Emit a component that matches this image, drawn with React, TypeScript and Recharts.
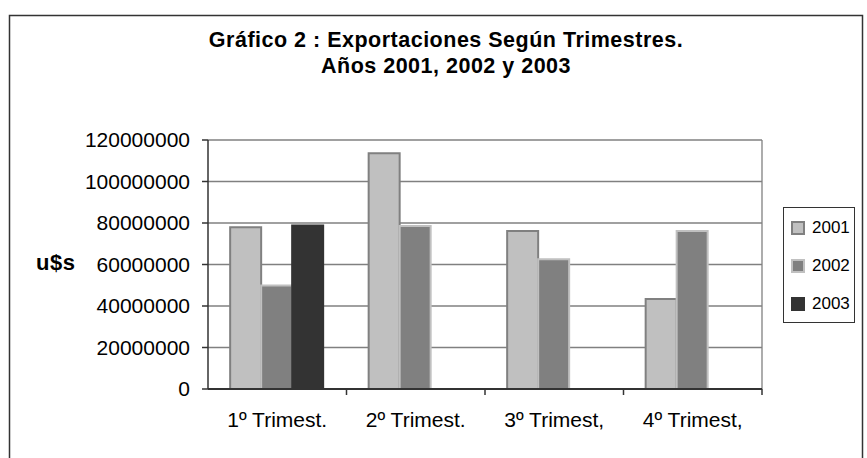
import React from 'react';
import { BarChart, Bar, XAxis, YAxis, CartesianGrid, Legend } from 'recharts';

const QUARTERS = ['1º Trimest.', '2º Trimest.', '3º Trimest,', '4º Trimest,'];
const YEARS = ['2001', '2002', '2003'];
const VALUES_2001 = [78000000, 113600000, 76100000, 43400000];
const VALUES_2002 = [49900000, 78500000, 62500000, 76100000];
const VALUES_2003 = [78800000, null, null, null];
const Y_TICKS = [0, 20000000, 40000000, 60000000, 80000000, 100000000, 120000000];
const TITLE_LINES = ['Gráfico 2 : Exportaciones Según Trimestres.', 'Años 2001, 2002 y 2003'];
const Y_LABEL = 'u$s';

const data = QUARTERS.map((q, i) => ({
  quarter: q,
  y2001: VALUES_2001[i],
  y2002: VALUES_2002[i],
  y2003: VALUES_2003[i],
}));

const FONT = '"Liberation Sans", Arial, sans-serif';
const W = 867;
const H = 458;
const MARGIN = { top: 140, right: 105, bottom: 29, left: 0 };
const Y_AXIS_W = 208;
const HALF_BAND = (W - MARGIN.left - Y_AXIS_W - MARGIN.right) / QUARTERS.length / 2;

const SERIES_STYLE = [
  { key: 'y2001', fill: '#c0c0c0', stroke: '#808080' },
  { key: 'y2002', fill: '#808080', stroke: '#c0c0c0' },
  { key: 'y2003', fill: '#333333', stroke: '#333333' },
];

const XTick = (props: any) => {
  const { x, y, payload } = props;
  return (
    <g>
      <line x1={x + HALF_BAND} x2={x + HALF_BAND} y1={y} y2={y + 6} stroke="#333" strokeWidth={1.5} />
      <text x={x} y={y + 38} textAnchor="middle" fontSize={21} fill="#000" fontFamily={FONT}>
        {payload.value}
      </text>
    </g>
  );
};

const LegendBox = () => (
  <div
    style={{
      boxSizing: 'border-box',
      width: 72,
      height: 116,
      border: '1.5px solid #333',
      position: 'relative',
      background: '#fff',
      fontFamily: FONT,
    }}
  >
    {YEARS.map((yr, i) => (
      <div key={yr} style={{ position: 'absolute', left: 0, top: 20 + i * 38 - 10, height: 20, width: '100%' }}>
        <span
          style={{
            position: 'absolute',
            left: 7,
            top: 3,
            width: 14,
            height: 14,
            boxSizing: 'border-box',
            background: SERIES_STYLE[i].fill,
            border: `2px solid ${SERIES_STYLE[i].stroke}`,
          }}
        />
        <span style={{ position: 'absolute', left: 28, top: 0, fontSize: 17, lineHeight: '20px', color: '#000' }}>{yr}</span>
      </div>
    ))}
  </div>
);

export default function App() {
  return (
    <div style={{ position: 'absolute', left: 0, top: 0, width: W, height: H, background: '#fff', overflow: 'hidden' }}>
      <BarChart width={W} height={H} data={data} margin={MARGIN} barCategoryGap="16%" barGap={0}>
        <CartesianGrid
          stroke="#808080"
          strokeWidth={1.3}
          horizontal={true}
          vertical={true}
          verticalCoordinatesGenerator={(p: any) => [p.offset.left + p.offset.width]}
        />
        <XAxis
          dataKey="quarter"
          tickLine={false}
          tickSize={0}
          tickMargin={0}
          height={40}
          axisLine={{ stroke: '#333', strokeWidth: 2 }}
          tick={<XTick />}
          interval={0}
        />
        <YAxis
          width={Y_AXIS_W}
          domain={[0, 120000000]}
          ticks={Y_TICKS}
          interval={0}
          tickSize={6}
          tickMargin={12}
          axisLine={{ stroke: '#333', strokeWidth: 1.5 }}
          tickLine={{ stroke: '#333', strokeWidth: 1.5 }}
          tick={{ fontSize: 21, fill: '#000', fontFamily: FONT }}
          tickFormatter={(v: number) => String(v)}
        />
        <Legend
          layout="vertical"
          align="center"
          verticalAlign="middle"
          content={<LegendBox />}
          wrapperStyle={{ left: 783, top: 207, width: 72, height: 116 }}
        />
        {SERIES_STYLE.map((s, i) => (
          <Bar
            key={s.key}
            dataKey={s.key}
            name={YEARS[i]}
            fill={s.fill}
            stroke={s.stroke}
            strokeWidth={2}
            isAnimationActive={false}
          />
        ))}
      </BarChart>
      <svg
        width={W}
        height={H}
        style={{ position: 'absolute', left: 0, top: 0, pointerEvents: 'none' }}
      >
        <rect x={9.5} y={15.5} width={853} height={470} fill="none" stroke="#333" strokeWidth={1.5} />
        <text x={446} y={47} textAnchor="middle" fontSize={21.5} fontWeight="bold" letterSpacing={0.5} fontFamily={FONT} fill="#000">
          {TITLE_LINES[0]}
        </text>
        <text x={446} y={73} textAnchor="middle" fontSize={21.5} fontWeight="bold" letterSpacing={0.5} fontFamily={FONT} fill="#000">
          {TITLE_LINES[1]}
        </text>
        <text x={36} y={270} fontSize={22} fontWeight="bold" letterSpacing={0.5} fontFamily={FONT} fill="#000">
          {Y_LABEL}
        </text>
      </svg>
    </div>
  );
}
